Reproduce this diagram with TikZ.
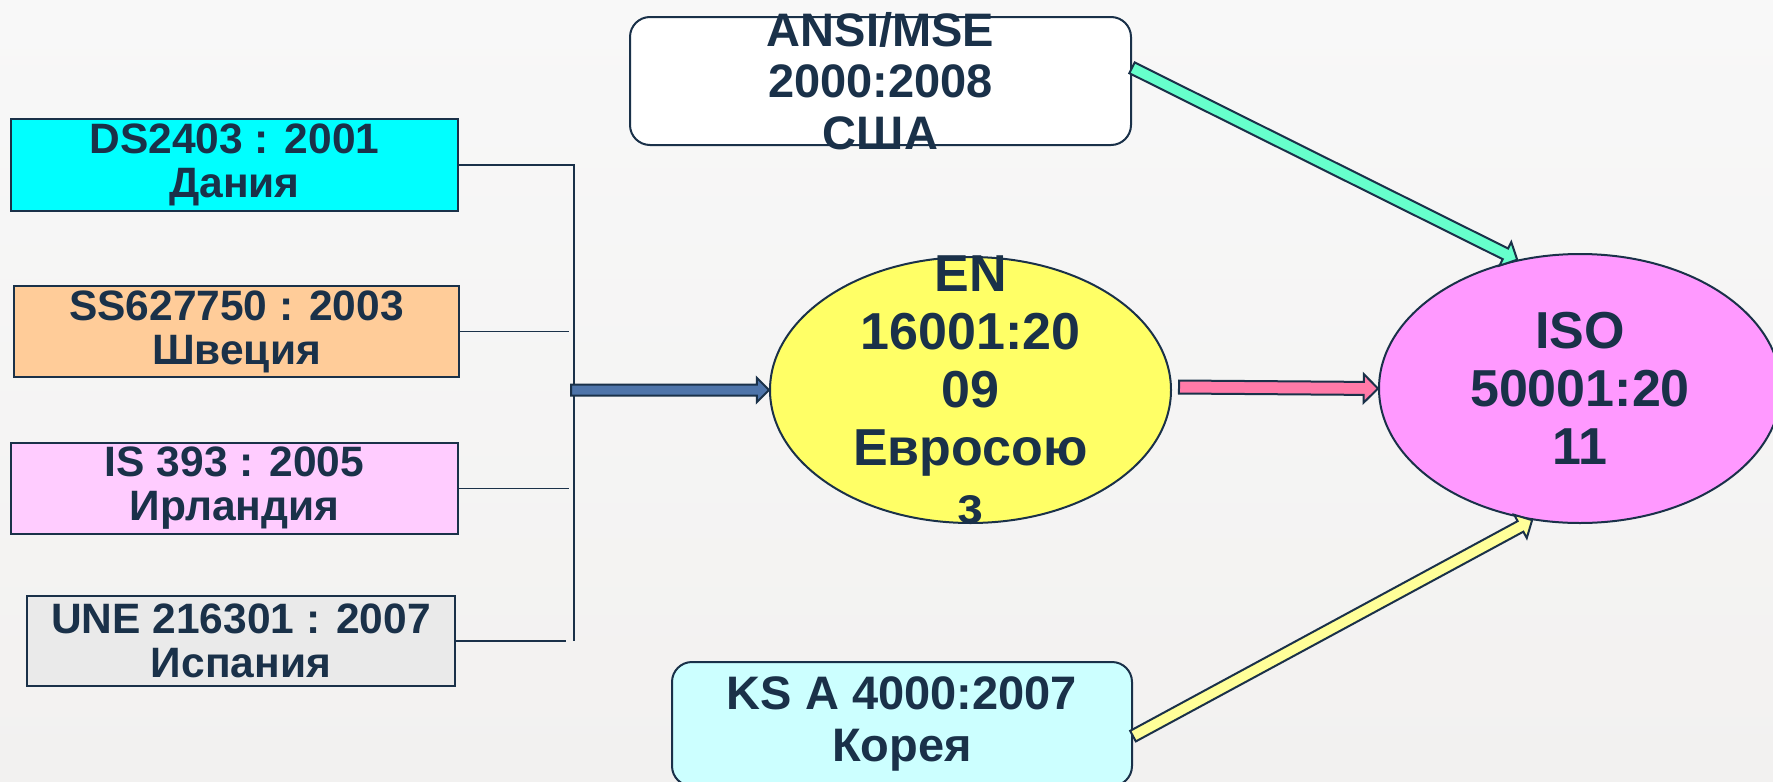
\documentclass[tikz,border=0pt]{standalone}
\usepackage{fontspec}
\setmainfont{Liberation Sans}
\usepackage{tikz}
\usetikzlibrary{calc,shapes.geometric}

\definecolor{inkblue}{HTML}{1A3149}
\definecolor{bgtop}{HTML}{F8F8F8}
\definecolor{bgbottom}{HTML}{F2F1F0}
\definecolor{dkcyan}{HTML}{00FFFF}
\definecolor{seorange}{HTML}{FFCC99}
\definecolor{iepink}{HTML}{FFCCFF}
\definecolor{esgray}{HTML}{EAEAEA}
\definecolor{krcyan}{HTML}{CCFFFF}
\definecolor{euyellow}{HTML}{FFFF66}
\definecolor{isoviolet}{HTML}{FF99FF}
\definecolor{arrblue}{HTML}{4E74A9}
\definecolor{arrpink}{HTML}{FF7AA8}
\definecolor{arrgreen}{HTML}{66FFCC}
\definecolor{arryellow}{HTML}{FFFF99}

% block arrow: #1 half shaft width, #2 fill, #3 from, #4 to
\newcommand{\blockarrow}[4][6]{%
  \coordinate (ba_h) at ($(#4)!2.2*#1pt!(#3)$);
  \filldraw[arrowedge, fill=#2]
    ($(#3)!#1pt!90:(#4)$) -- ($(ba_h)!#1pt!-90:(#3)$) -- ($(ba_h)!2.2*#1pt!-90:(#3)$)
    -- (#4) -- ($(ba_h)!2.2*#1pt!90:(#3)$) -- ($(ba_h)!#1pt!90:(#3)$)
    -- ($(#3)!#1pt!-90:(#4)$) -- cycle;
}

\begin{document}
\begin{tikzpicture}[x=1pt, y=-1pt,
    every node/.style={text=inkblue},
    stdbox/.style={draw=inkblue, line width=2pt, inner sep=0pt, align=center,
        font=\bfseries\fontsize{42.5}{44}\selectfont},
    roundbox/.style={draw=inkblue, line width=2pt, rounded corners=20pt, inner sep=0pt,
        align=center, font=\bfseries\fontsize{47}{51.5}\selectfont},
    bigoval/.style={ellipse, draw=inkblue, line width=2pt, inner sep=0pt,
        minimum width=401pt, minimum height=266pt},
    ovaltext/.style={align=center, inner sep=0pt, font=\bfseries\fontsize{52}{58}\selectfont},
    busline/.style={draw=inkblue, line width=1.6pt},
    arrowedge/.style={draw=inkblue, line width=2pt, line join=miter}]
    % Background
    \useasboundingbox (0,0) rectangle (1773,782);
    \fill[top color=bgtop, bottom color=bgbottom] (0,0) rectangle (1773,782);

    % National standards
    \node[stdbox, fill=dkcyan, minimum width=447pt, minimum height=92pt] (ds_box) at (234.5,165)
        {DS2403 : 2001\\Дания};
    \node[stdbox, fill=seorange, minimum width=445pt, minimum height=91pt] (ss_box) at (236.5,331.5)
        {SS627750 : 2003\\Швеция};
    \node[stdbox, fill=iepink, minimum width=447pt, minimum height=91pt] (is_box) at (234.5,488.5)
        {IS 393 : 2005\\Ирландия};
    \node[stdbox, fill=esgray, minimum width=428pt, minimum height=90pt] (une_box) at (241,641)
        {UNE 216301 : 2007\\Испания};
    \node[roundbox, fill=white, minimum width=501pt, minimum height=128pt] (ansi_box) at (880.5,81) {};
    \node[roundbox, fill=krcyan, minimum width=460pt, minimum height=124pt] (ks_box) at (902,724)
        {KS A 4000:2007\\Корея};

    % Regional and international
    \node[bigoval, fill=euyellow] (en) at (970.5,390) {};
    \node[bigoval, fill=isoviolet, minimum width=402pt, minimum height=269pt] (iso) at (1580,388.5) {};

    % Bus
    \coordinate (bus_top) at (574,165);
    \coordinate (bus_bot) at (574,641);
    \draw[busline] (ds_box.east) -- (bus_top) -- (bus_bot);
    \draw[busline, shorten >=5pt] (ss_box.east) -- (ss_box.east -| bus_top);
    \draw[busline, shorten >=5pt] (is_box.east) -- (is_box.east -| bus_top);
    \draw[busline, shorten >=8pt] (une_box.east) -- (une_box.east -| bus_top);

    % Arrows
    \coordinate (bus_out) at (571,390);
    \coordinate (en_out) at ($(en.east)+(7,-3)$);
    \blockarrow[5.5]{arrblue}{bus_out}{en.west}
    \blockarrow[6.5]{arrpink}{en_out}{iso.west}
    \blockarrow[6]{arrgreen}{ansi_box.3}{iso.116}
    \blockarrow[6]{arryellow}{ks_box.-3}{iso.250}

    % Texts
    \node[roundbox, draw=none] (ansi_text) at (ansi_box) {ANSI/MSE\\2000:2008\\США};
    \node[ovaltext] (en_text) at (en) {EN\\16001:20\\09\\Евросою\\з};
    \node[ovaltext] (iso_text) at (iso) {ISO\\50001:20\\11};
\end{tikzpicture}
\end{document}
